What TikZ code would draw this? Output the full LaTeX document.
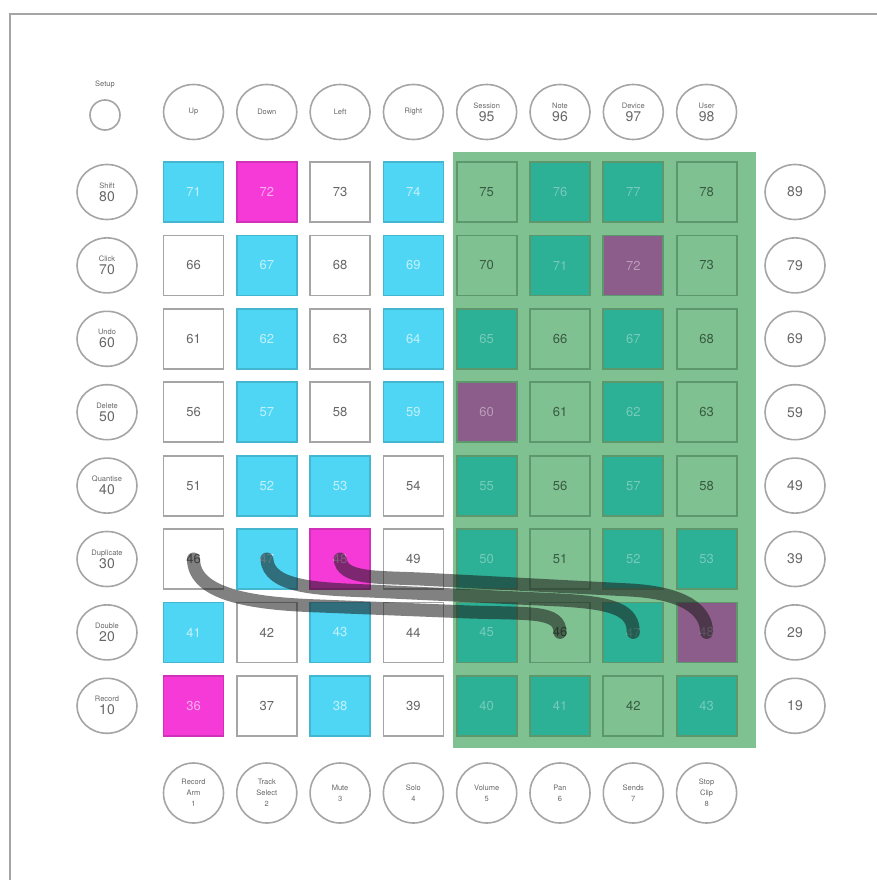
\documentclass[tikz,border=0pt]{standalone}
\usepackage{fontspec}
\setmainfont{TeX Gyre Heros}
\usetikzlibrary{shapes.geometric}

\definecolor{padcyan}{RGB}{80,214,245}
\definecolor{padmag}{RGB}{245,58,216}
\definecolor{zonegreen}{RGB}{128,193,146}
\definecolor{padteal}{RGB}{44,176,150}
\definecolor{padpurple}{RGB}{140,92,138}
\definecolor{zoneedge}{RGB}{92,152,108}
\definecolor{btngray}{RGB}{165,165,165}

\newcommand{\btnword}{\fontsize{7.5}{11}\selectfont}
\newcommand{\btnnum}{\fontsize{14}{13}\selectfont}

\begin{document}
\begin{tikzpicture}[x=1pt,y=-1pt,
    pad/.style={rectangle, minimum size=60pt, line width=1.8pt, inner sep=0pt, font=\fontsize{13}{13}\selectfont},
    padw/.style={fill=white, draw=btngray, text=black!60},
    padc/.style={fill=padcyan, draw=padcyan!85!black, text=white!65!padcyan},
    padm/.style={fill=padmag, draw=padmag!85!black, text=white!60!padmag},
    padl/.style={fill=zonegreen, draw=zoneedge, text=zoneedge!60!black},
    padt/.style={fill=padteal, draw=zoneedge, text=white!35!padteal},
    padp/.style={fill=padpurple, draw=zoneedge, text=white!40!padpurple},
    btn/.style={ellipse, draw=btngray, line width=1.6pt, minimum width=60pt, minimum height=55pt, inner sep=0pt, align=center, text=black!60, font=\btnnum},
    cable/.style={line width=13pt, line cap=round, black!90, opacity=0.55}]
    \useasboundingbox (0,0) rectangle (877,880);

    % Frame
    \draw[btngray, line width=2.5pt] (10,880) -- (10,14) -- (877,14);

    % Mixer zone
    \fill[zonegreen] (453,152) rectangle (756,748);

    % Pad grid
    \foreach \r/\kinds in {1/{c,m,w,c,l,t,t,l}, 2/{w,c,w,c,l,t,p,l}, 3/{w,c,w,c,t,l,t,l}, 4/{w,c,w,c,p,l,t,l},
                           5/{w,c,c,w,t,l,t,l}, 6/{w,c,m,w,t,l,t,t}, 7/{c,w,c,w,t,l,t,p}, 8/{m,w,c,w,t,t,l,t}} {
        \foreach \k [count=\c] in \kinds {
            \pgfmathtruncatemacro{\n}{75-5*\r+\c}
            \node[pad, pad\k] (pad-\c-\r) at ({193.5+73.3*(\c-1)}, {192+73.4*(\r-1)}) {\n};
        }
    }

    % Side buttons
    \foreach \word/\num [count=\r] in {Shift/80, Click/70, Undo/60, Delete/50, Quantise/40, Duplicate/30, Double/20, Record/10}
        \node[btn] (side-\r) at (107, {192+73.4*(\r-1)}) {{\btnword \word}\\\num};
    \foreach \num [count=\r] in {89,79,69,59,49,39,29,19}
        \node[btn] (scene-\r) at (795, {192+73.4*(\r-1)}) {\num};

    % Top buttons
    \node[font=\btnword, text=black!60] (setup-label) at (105,85) {Setup};
    \node[circle, draw=btngray, line width=1.6pt, minimum size=30pt] (setup) at (105,115) {};
    \foreach \word [count=\c] in {Up, Down, Left, Right}
        \node[btn, font=\btnword] (nav-\c) at ({193.5+73.3*(\c-1)}, 112) {\word};
    \foreach \word/\num [count=\c from 5] in {Session/95, Note/96, Device/97, User/98}
        \node[btn] (mode-\c) at ({193.5+73.3*(\c-1)}, 112) {{\btnword \word}\\\num};

    % Bottom buttons
    \foreach \txt [count=\c] in {Record\\Arm\\1, Track\\Select\\2, Mute\\3, Solo\\4, Volume\\5, Pan\\6, Sends\\7, Stop\\Clip\\8}
        \node[btn, minimum height=60pt, font=\btnword] (track-\c) at ({193.5+73.3*(\c-1)}, 793) {\txt};

    % Cables
    \draw[cable] (pad-1-6.center) .. controls +(0,38) and +(-60,-2) .. (320,606) -- (470,612)
        .. controls +(60,2) and +(0,-22) .. (pad-6-7.center);
    \draw[cable] (pad-2-6.center) .. controls +(2,28) and +(-55,-2) .. (370,591) -- (560,600)
        .. controls +(55,3) and +(0,-22) .. (pad-7-7.center);
    \draw[cable] (pad-3-6.center) .. controls +(2,20) and +(-45,-2) .. (420,579) -- (630,590)
        .. controls +(55,3) and +(0,-22) .. (pad-8-7.center);
\end{tikzpicture}
\end{document}
